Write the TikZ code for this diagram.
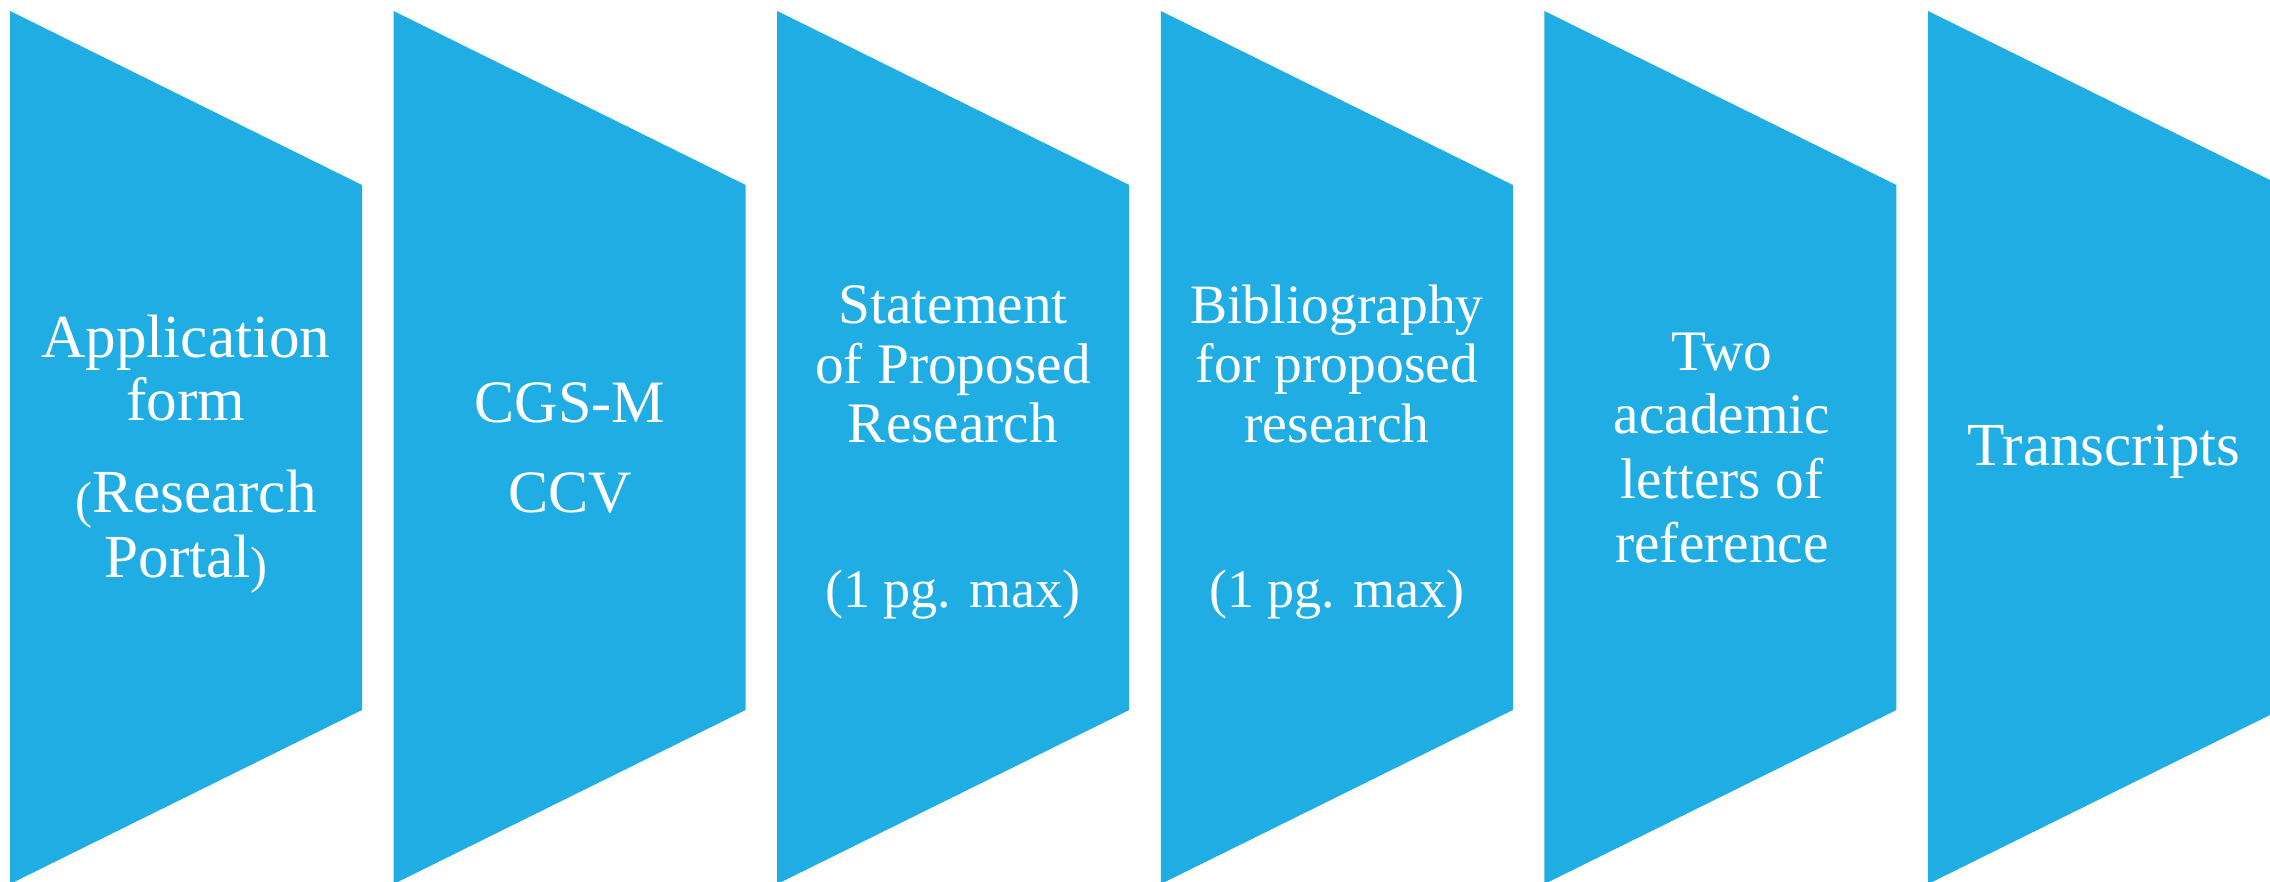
\documentclass[tikz,border=0pt]{standalone}
\usepackage{fontspec}
\setmainfont{Liberation Serif}
\definecolor{chev}{RGB}{31,173,228}
\newcommand{\fsz}[1]{\fontsize{#1}{#1}\selectfont}
\begin{document}
\begin{tikzpicture}[x=0.01cm,y=-0.01cm,
  panel/.style={fill=chev},
  lbl/.style={text=white, anchor=base, inner sep=0pt, outer sep=0pt}]
\useasboundingbox (0,0) rectangle (2270,882);
\clip (0,0) rectangle (2270,882);
\foreach \x in {10,393.6,777.2,1160.8,1544.4,1928}{
  \fill[panel] (\x,11) -- ({\x+352},185) -- ({\x+352},710) -- (\x,884) -- cycle;
}
% panel 1
\node[lbl, font=\fsz{17.4pt}] (t1a) at (186,357) {Application};
\node[lbl, font=\fsz{17.4pt}] (t1b) at (186,420) {form};
\node[lbl, font=\fsz{17.4pt}] (t1c) at (196,512) {{\fsz{14.5pt}\raisebox{-1.5pt}{(}}Research};
\node[lbl, font=\fsz{17.4pt}] (t1d) at (186,577) {Portal{\fsz{14.5pt}\raisebox{-1.5pt}{)}}};
% panel 2
\node[lbl, font=\fsz{17.1pt}] (t2a) at (570,422) {CGS-M};
\node[lbl, font=\fsz{17.1pt}] (t2b) at (570,512) {CCV};
% panel 3
\node[lbl, font=\fsz{16.3pt}] (t3a) at (953,323) {Statement};
\node[lbl, font=\fsz{16.3pt}] (t3b) at (953,383) {of Proposed};
\node[lbl, font=\fsz{16.3pt}] (t3c) at (953,442) {Research};
\node[lbl, font=\fsz{15.4pt}] (t3d) at (953,607) {(1 pg. max)};
% panel 4
\node[lbl, font=\fsz{15.8pt}] (t4a) at (1337,323) {Bibliography};
\node[lbl, font=\fsz{15.8pt}] (t4b) at (1337,382) {for proposed};
\node[lbl, font=\fsz{15.8pt}] (t4c) at (1337,442) {research};
\node[lbl, font=\fsz{15.4pt}] (t4d) at (1337,607) {(1 pg. max)};
% panel 5
\node[lbl, font=\fsz{16.3pt}] (t5a) at (1722,370) {Two};
\node[lbl, font=\fsz{16.3pt}] (t5b) at (1722,433) {academic};
\node[lbl, font=\fsz{16.3pt}] (t5c) at (1722,498) {letters of};
\node[lbl, font=\fsz{16.3pt}] (t5d) at (1722,562) {reference};
% panel 6
\node[lbl, font=\fsz{17.4pt}] (t6a) at (2104,465) {Transcripts};
\end{tikzpicture}
\end{document}
